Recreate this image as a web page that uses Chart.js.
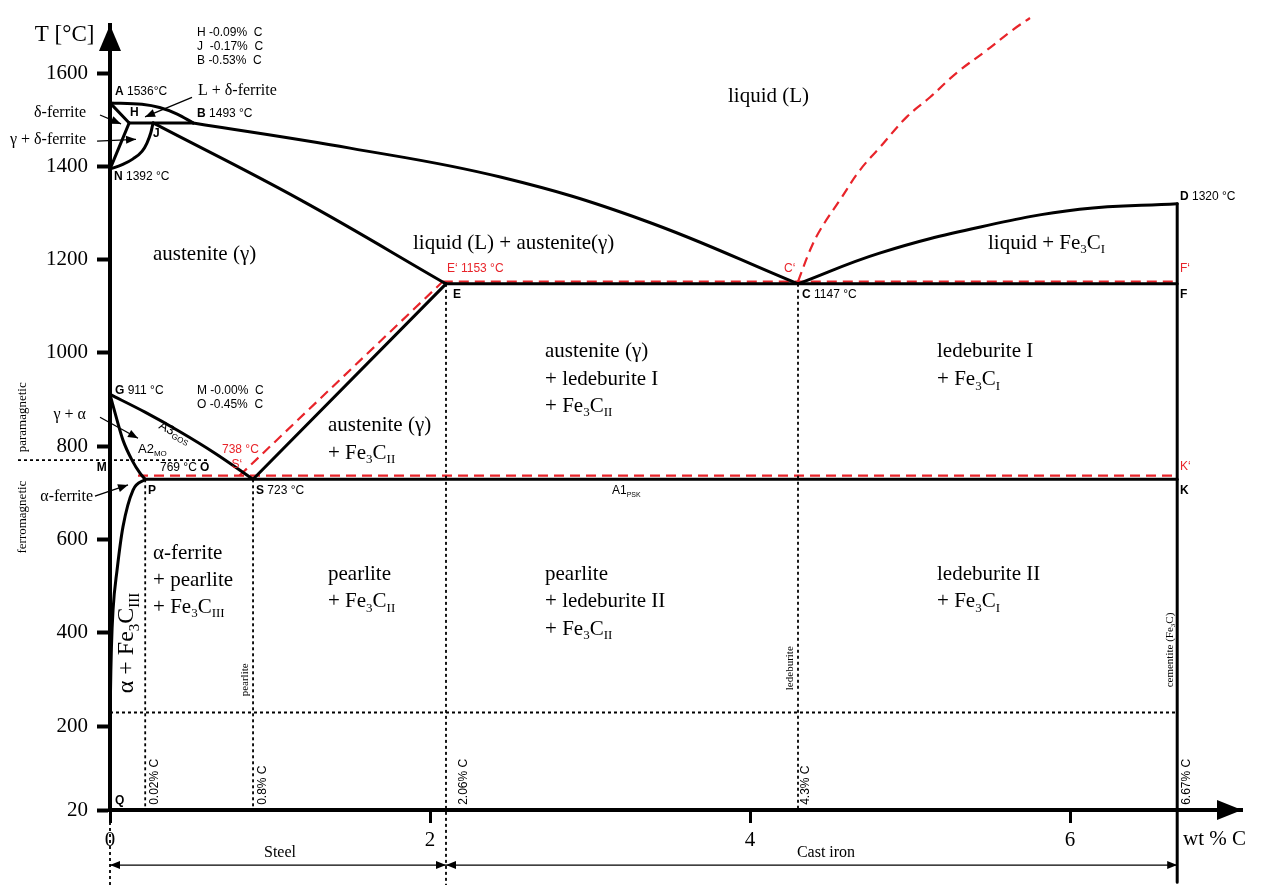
<!DOCTYPE html>
<html>
<head>
<meta charset="utf-8">
<script src="https://cdn.jsdelivr.net/npm/chart.js@4.4.1/dist/chart.umd.min.js"></script>
<style>
  html, body { margin: 0; padding: 0; background: #fff; }
  #wrap { width: 1280px; height: 889px; position: relative; }
</style>
</head>
<body>
<div id="wrap"><canvas id="ironCarbon"></canvas></div>
<script>
// axis ticks
const xTicks = [0, 2, 4, 6];
const yTicks = [20, 200, 400, 600, 800, 1000, 1200, 1400, 1600];

// phase boundaries as [wt % C on the drawn axis, T in °C]
const liquidusAB = [[0, 1536], [0.2, 1533], [0.31, 1526], [0.42, 1512], [0.52, 1493]];
const liquidusBC = [[0.52, 1493], [1.5, 1439], [2.44, 1377], [3.33, 1285], [4.3, 1148]];
const liquidusCD = [[4.3, 1148], [4.81, 1214], [5.44, 1270], [6.06, 1308], [6.67, 1320]];
const peritecticHB = [[0.12, 1493], [0.52, 1493]];
const lineAH = [[0, 1536], [0.12, 1493]];
const lineHN = [[0, 1394], [0.12, 1493]];
const arcNJ = [[0, 1394], [0.08, 1404], [0.144, 1416], [0.2, 1432], [0.231, 1450], [0.255, 1472], [0.269, 1493]];
const solidusJE = [[0.269, 1493], [1.19, 1328], [2.1, 1148]];
const cementiteDF = [[6.67, 1320], [6.67, -135]];
const eutecticEF = [[2.1, 1148], [6.67, 1148]];
const curveGS = [[0, 911], [0.219, 873], [0.4375, 831], [0.656, 785], [0.894, 729]];
const curveGP = [[0, 911], [0.044, 856], [0.081, 813], [0.1375, 770], [0.1875, 742], [0.22, 729]];
const curvePQ = [[0, 170], [0.003, 271], [0.009, 369], [0.019, 449], [0.044, 534], [0.081, 627], [0.144, 706], [0.22, 729]];
const eutectoidPK = [[0.22, 729], [6.67, 729]];
const lineSE = [[0.894, 729], [2.1, 1148]];

// metastable / stable system (red dashed)
const redSE = [[0.81, 737], [2.08, 1153]];
const redEF = [[2.08, 1153], [6.67, 1153]];
const redSK = [[0.175, 737], [6.67, 737]];
const redCurve = [[4.3, 1153], [4.375, 1220], [4.4375, 1263], [4.5625, 1328], [4.6875, 1392], [4.8125, 1441],
                  [4.98, 1506], [5.125, 1548], [5.29, 1600], [5.48, 1649], [5.64, 1692], [5.75, 1718]];

// dotted guide lines
const dotP = [[0.22, 729], [0.22, 20]];
const dotS = [[0.894, 729], [0.894, 20]];
const dotE = [[2.1, 1148], [2.1, -141]];
const dotC = [[4.3, 1148], [4.3, 20]];
const dotZero = [[0, 20], [0, -141]];
const curieMO = [[-0.575, 770], [0.62, 770]];
const dotLow = [[0, 229], [6.67, 229]];

const SERIF = "'Liberation Serif', 'DejaVu Serif', serif";
const SANS = "'Liberation Sans', 'DejaVu Sans', sans-serif";
const RED = '#e8242a';

const pts = arr => arr.map(p => ({ x: p[0], y: p[1] }));

// curve: 'm' monotone, 's' smooth bezier, undefined straight
function solid(arr, curve) {
  return { data: pts(arr), showLine: true, borderColor: '#000', borderWidth: 3, pointRadius: 0,
           cubicInterpolationMode: curve === 'm' ? 'monotone' : 'default', tension: curve === 's' ? 0.4 : 0,
           clip: false, borderCapStyle: 'round', borderJoinStyle: 'round' };
}
function dashed(arr, curve) {
  return { data: pts(arr), showLine: true, borderColor: RED, borderWidth: 2.2, borderDash: [10, 6], pointRadius: 0,
           tension: curve === 's' ? 0.4 : 0, clip: false };
}
function dotted(arr) {
  return { data: pts(arr), showLine: true, borderColor: '#000', borderWidth: 1.8, borderDash: [3, 3], pointRadius: 0, clip: false };
}

const datasets = [
  dotted(dotP), dotted(dotS), dotted(dotE), dotted(dotC), dotted(dotZero), dotted(curieMO), dotted(dotLow),
  solid(liquidusAB, 'm'), solid(liquidusBC, 's'), solid(liquidusCD, 's'),
  solid(peritecticHB), solid(lineAH), solid(lineHN), solid(arcNJ, 'm'), solid(solidusJE, 's'),
  solid(cementiteDF), solid(eutecticEF), solid(curveGS, 'm'), solid(curveGP, 'm'), solid(curvePQ, 'm'),
  solid(eutectoidPK), solid(lineSE),
  dashed(redSE), dashed(redEF), dashed(redSK), dashed(redCurve, 's')
];

// text labels: x / y in axis units; *bold*, _{subscript}
const labels = [
  { t: 'T [°C]', x: -0.47, y: 1681, f: SERIF, s: 23 },
  { t: 'H -0.09%  C', x: 0.544, y: 1686, f: SANS, s: 12 },
  { t: 'J  -0.17%  C', x: 0.544, y: 1656, f: SANS, s: 12 },
  { t: 'B -0.53%  C', x: 0.544, y: 1626, f: SANS, s: 12 },
  { t: '*A* 1536°C', x: 0.031, y: 1561, f: SANS, s: 12 },
  { t: 'L + δ-ferrite', x: 0.55, y: 1561, f: SERIF, s: 16 },
  { t: '*H*', x: 0.125, y: 1514, f: SANS, s: 12 },
  { t: '*B* 1493 °C', x: 0.544, y: 1512, f: SANS, s: 12 },
  { t: 'δ-ferrite', x: -0.15, y: 1514, f: SERIF, s: 16, a: 'right' },
  { t: '*J*', x: 0.269, y: 1471, f: SANS, s: 12 },
  { t: 'γ + δ-ferrite', x: -0.15, y: 1456, f: SERIF, s: 16, a: 'right' },
  { t: '*N* 1392 °C', x: 0.025, y: 1377, f: SANS, s: 12 },
  { t: 'liquid (L)', x: 3.8625, y: 1550, f: SERIF, s: 21 },
  { t: 'austenite (γ)', x: 0.269, y: 1210, f: SERIF, s: 21 },
  { t: 'liquid (L) + austenite(γ)', x: 1.894, y: 1235, f: SERIF, s: 21 },
  { t: 'E‘ 1153 °C', x: 2.106, y: 1180, f: SANS, s: 12, c: RED },
  { t: 'C‘', x: 4.2125, y: 1180, f: SANS, s: 12, c: RED },
  { t: '*D* 1320 °C', x: 6.6875, y: 1334, f: SANS, s: 12 },
  { t: 'F‘', x: 6.6875, y: 1180, f: SANS, s: 12, c: RED },
  { t: 'liquid + Fe_{3}C_{I}', x: 5.4875, y: 1235, f: SERIF, s: 21 },
  { t: '*E*', x: 2.144, y: 1124, f: SANS, s: 12 },
  { t: '*C* 1147 °C', x: 4.325, y: 1124, f: SANS, s: 12 },
  { t: '*F*', x: 6.6875, y: 1124, f: SANS, s: 12 },
  { t: 'austenite (γ)', x: 2.719, y: 1002, f: SERIF, s: 21 },
  { t: '+ ledeburite I', x: 2.719, y: 944, f: SERIF, s: 21 },
  { t: '+ Fe_{3}C_{II}', x: 2.719, y: 886, f: SERIF, s: 21 },
  { t: 'ledeburite I', x: 5.169, y: 1002, f: SERIF, s: 21 },
  { t: '+ Fe_{3}C_{I}', x: 5.169, y: 942, f: SERIF, s: 21 },
  { t: '*G* 911 °C', x: 0.031, y: 920, f: SANS, s: 12 },
  { t: 'M -0.00%  C', x: 0.544, y: 920, f: SANS, s: 12 },
  { t: 'O -0.45%  C', x: 0.544, y: 890, f: SANS, s: 12 },
  { t: 'γ + α', x: -0.15, y: 867, f: SERIF, s: 16, a: 'right' },
  { t: 'A3_{GOS}', x: 0.31, y: 846, f: SANS, s: 13, r: 28 },
  { t: 'A2_{MO}', x: 0.175, y: 792, f: SANS, s: 13 },
  { t: '738 °C', x: 0.7, y: 792, f: SANS, s: 12, c: RED },
  { t: 'S‘', x: 0.76, y: 760, f: SANS, s: 12, c: RED },
  { t: '769 °C', x: 0.3125, y: 753, f: SANS, s: 12 },
  { t: '*O*', x: 0.5625, y: 753, f: SANS, s: 12 },
  { t: '*M*', x: -0.02, y: 753, f: SANS, s: 12, a: 'right' },
  { t: 'paramagnetic', x: -0.544, y: 862, f: SERIF, s: 13, a: 'center', r: -90 },
  { t: 'ferromagnetic', x: -0.544, y: 648, f: SERIF, s: 13, a: 'center', r: -90 },
  { t: 'α-ferrite', x: -0.106, y: 691, f: SERIF, s: 16, a: 'right' },
  { t: '*P*', x: 0.2375, y: 704, f: SANS, s: 12 },
  { t: '*S* 723 °C', x: 0.9125, y: 704, f: SANS, s: 12 },
  { t: '*K*', x: 6.6875, y: 704, f: SANS, s: 12 },
  { t: 'K‘', x: 6.6875, y: 755, f: SANS, s: 12, c: RED },
  { t: 'A1_{PSK}', x: 3.1375, y: 704, f: SANS, s: 12 },
  { t: 'austenite (γ)', x: 1.3625, y: 845, f: SERIF, s: 21 },
  { t: '+ Fe_{3}C_{II}', x: 1.3625, y: 785, f: SERIF, s: 21 },
  { t: 'α-ferrite', x: 0.269, y: 571, f: SERIF, s: 21 },
  { t: '+ pearlite', x: 0.269, y: 513, f: SERIF, s: 21 },
  { t: '+ Fe_{3}C_{III}', x: 0.269, y: 455, f: SERIF, s: 21 },
  { t: 'α + Fe_{3}C_{III}', x: 0.106, y: 378, f: SERIF, s: 24, a: 'center', r: -90 },
  { t: 'pearlite', x: 1.3625, y: 524, f: SERIF, s: 21 },
  { t: '+ Fe_{3}C_{II}', x: 1.3625, y: 466, f: SERIF, s: 21 },
  { t: 'pearlite', x: 2.719, y: 524, f: SERIF, s: 21 },
  { t: '+ ledeburite II', x: 2.719, y: 466, f: SERIF, s: 21 },
  { t: '+ Fe_{3}C_{II}', x: 2.719, y: 408, f: SERIF, s: 21 },
  { t: 'ledeburite II', x: 5.169, y: 524, f: SERIF, s: 21 },
  { t: '+ Fe_{3}C_{I}', x: 5.169, y: 466, f: SERIF, s: 21 },
  { t: 'pearlite', x: 0.844, y: 299, f: SERIF, s: 11, a: 'center', r: -90 },
  { t: 'ledeburite', x: 4.25, y: 324, f: SERIF, s: 11, a: 'center', r: -90 },
  { t: 'cementite (Fe_{3}C)', x: 6.625, y: 363, f: SERIF, s: 11, a: 'center', r: -90 },
  { t: '0.02% C', x: 0.281, y: 31, f: SANS, s: 12, r: -90 },
  { t: '0.8% C', x: 0.956, y: 31, f: SANS, s: 12, r: -90 },
  { t: '2.06% C', x: 2.2125, y: 31, f: SANS, s: 12, r: -90 },
  { t: '4.3% C', x: 4.35, y: 31, f: SANS, s: 12, r: -90 },
  { t: '6.67% C', x: 6.73, y: 31, f: SANS, s: 12, r: -90 },
  { t: '*Q*', x: 0.031, y: 41, f: SANS, s: 12 },
  { t: 'wt % C', x: 6.706, y: -44, f: SERIF, s: 21 },
  { t: 'Steel', x: 1.0625, y: -72, f: SERIF, s: 16, a: 'center' },
  { t: 'Cast iron', x: 4.475, y: -72, f: SERIF, s: 16, a: 'center' }
];

// pointer arrows [x1, y1, x2, y2, both ends]
const pointers = [
  [0.5125, 1548, 0.219, 1506, false],
  [-0.0625, 1510, 0.069, 1491, false],
  [-0.081, 1454, 0.1625, 1458, false],
  [-0.0625, 862, 0.175, 817, false],
  [-0.094, 693, 0.1125, 717, false],
  [0, -98, 2.1, -98, true],
  [2.1, -98, 6.67, -98, true]
];

function drawRich(ctx, text, fam, size, color, align) {
  const segs = text.split(/(\*[^*]+\*|_\{[^}]+\})/).filter(p => p).map(p => {
    if (p[0] === '*') return { t: p.slice(1, -1), font: 'bold ' + size + 'px ' + fam, dy: 0 };
    if (p[0] === '_' && p[1] === '{') return { t: p.slice(2, -1), font: Math.round(size * 0.62) + 'px ' + fam, dy: size * 0.32 };
    return { t: p, font: size + 'px ' + fam, dy: 0 };
  });
  let w = 0;
  segs.forEach(s => { ctx.font = s.font; s.w = ctx.measureText(s.t).width; w += s.w; });
  let x = align === 'center' ? -w / 2 : align === 'right' ? -w : 0;
  ctx.fillStyle = color;
  ctx.textAlign = 'left';
  ctx.textBaseline = 'middle';
  segs.forEach(s => { ctx.font = s.font; ctx.fillText(s.t, x, s.dy); x += s.w; });
}

function head(ctx, x1, y1, x2, y2, len, half) {
  const a = Math.atan2(y2 - y1, x2 - x1);
  ctx.beginPath();
  ctx.moveTo(x2, y2);
  ctx.lineTo(x2 - len * Math.cos(a) + half * Math.sin(a), y2 - len * Math.sin(a) - half * Math.cos(a));
  ctx.lineTo(x2 - len * Math.cos(a) - half * Math.sin(a), y2 - len * Math.sin(a) + half * Math.cos(a));
  ctx.closePath();
  ctx.fill();
}

const annotations = {
  id: 'annotations',
  afterDraw(chart) {
    const { ctx, chartArea, scales: { x, y } } = chart;
    ctx.save();
    ctx.fillStyle = '#000';
    // axis arrowheads
    const x0 = x.getPixelForValue(0);
    head(ctx, x0, chartArea.top + 30, x0, chartArea.top, 26, 11);
    const yb = y.getPixelForValue(20);
    head(ctx, chartArea.right - 30, yb, chartArea.right, yb, 25, 10);

    ctx.strokeStyle = '#000';
    ctx.lineWidth = 1.3;
    pointers.forEach(p => {
      const ax = x.getPixelForValue(p[0]), ay = y.getPixelForValue(p[1]);
      const bx = x.getPixelForValue(p[2]), by = y.getPixelForValue(p[3]);
      ctx.beginPath(); ctx.moveTo(ax, ay); ctx.lineTo(bx, by); ctx.stroke();
      head(ctx, ax, ay, bx, by, 10, 4);
      if (p[4]) head(ctx, bx, by, ax, ay, 10, 4);
    });

    labels.forEach(l => {
      ctx.save();
      ctx.translate(x.getPixelForValue(l.x), y.getPixelForValue(l.y));
      if (l.r) ctx.rotate(l.r * Math.PI / 180);
      drawRich(ctx, l.t, l.f, l.s, l.c || '#000', l.a || 'left');
      ctx.restore();
    });
    ctx.restore();
  }
};

new Chart(document.getElementById('ironCarbon'), {
  type: 'scatter',
  data: { datasets: datasets },
  options: {
    responsive: true,
    maintainAspectRatio: false,
    animation: false,
    devicePixelRatio: 1,
    layout: { padding: { top: 25, right: 38, bottom: 0, left: 0 } },
    plugins: { legend: { display: false }, tooltip: { enabled: false } },
    scales: {
      x: {
        type: 'linear', min: 0, max: 7.075,
        afterBuildTicks: s => { s.ticks = xTicks.map(v => ({ value: v })); },
        afterFit: s => { s.height = 79; },
        border: { display: true, color: '#000', width: 4 },
        grid: { drawOnChartArea: false, color: '#000', tickColor: '#000', tickLength: 13, tickWidth: 3 },
        ticks: { color: '#000', font: { family: SERIF, size: 21 }, padding: 5, maxRotation: 0, autoSkip: false,
                 callback: v => String(v) }
      },
      y: {
        type: 'linear', min: 20, max: 1703,
        afterBuildTicks: s => { s.ticks = yTicks.map(v => ({ value: v })); },
        afterFit: s => { s.width = 110; },
        border: { display: true, color: '#000', width: 4 },
        grid: { drawOnChartArea: false, color: '#000', tickColor: '#000', tickLength: 13, tickWidth: 4 },
        ticks: { color: '#000', font: { family: SERIF, size: 21 }, padding: 9, autoSkip: false,
                 callback: v => String(v) }
      }
    }
  },
  plugins: [annotations]
});
</script>
</body>
</html>
